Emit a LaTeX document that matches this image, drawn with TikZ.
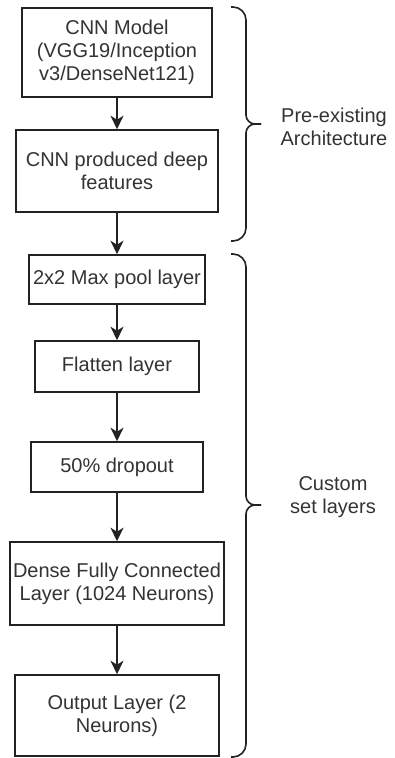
\documentclass[tikz,border=0pt]{standalone}
\usepackage{fontspec}
\setmainfont{Liberation Sans}
\usetikzlibrary{arrows.meta}
\definecolor{ink}{HTML}{222222}
\definecolor{txt}{HTML}{333333}
\begin{document}
\begin{tikzpicture}[x=1pt,y=-1pt,
  layer/.style={draw=ink, line width=1.6pt, fill=white, inner sep=0pt,
    align=center, text=txt, font=\fontsize{20}{23}\selectfont},
  flow/.style={draw=ink, line width=1.6pt,
    -{Stealth[length=13.5pt,width=13pt,inset=4pt]}},
  bracket/.style={draw=ink, line width=1.6pt, rounded corners=13pt},
  side/.style={align=center, text=txt, font=\fontsize{20}{23}\selectfont}]
\useasboundingbox (0,0) rectangle (394,758);

% layer stack
\node[layer, minimum width=190pt, minimum height=89pt] (cnn) at (117,52.5)
  {CNN Model\\(VGG19/Inception\\v3/DenseNet121)};
\node[layer, minimum width=202pt, minimum height=82pt] (feat) at (117,171)
  {CNN produced deep\\features};
\node[layer, minimum width=176pt, minimum height=49pt] (pool) at (117,279.5)
  {2x2 Max pool layer};
\node[layer, minimum width=164pt, minimum height=51pt] (flat) at (117,366.5)
  {Flatten layer};
\node[layer, minimum width=172pt, minimum height=50pt] (drop) at (117,467)
  {50\% dropout};
\node[layer, minimum width=214pt, minimum height=83pt] (dense) at (117,583.5)
  {Dense Fully Connected\\Layer (1024 Neurons)};
\node[layer, minimum width=204pt, minimum height=81pt] (out) at (117,715.5)
  {Output Layer (2\\Neurons)};

% connectors
\draw[flow] (cnn) -- (feat);
\draw[flow] (feat) -- (pool);
\draw[flow] (pool) -- (flat);
\draw[flow] (flat) -- (drop);
\draw[flow] (drop) -- (dense);
\draw[flow] (dense) -- (out);

% braces: wide rounding at the ends, tighter at the tip
\coordinate (b1tip) at (261,124);
\draw[bracket] (231,7) -- (246,7) [rounded corners=9pt] -- (246,124) -- (b1tip);
\draw[bracket] (b1tip) [rounded corners=9pt] -- (246,124) [rounded corners=13pt] -- (246,241) -- (231,241);
\coordinate (b2tip) at (261,505);
\draw[bracket] (231,254) -- (246,254) [rounded corners=9pt] -- (246,505) -- (b2tip);
\draw[bracket] (b2tip) [rounded corners=9pt] -- (246,505) [rounded corners=13pt] -- (246,757) -- (231,757);

% brace labels
\node[side] (pre) at (334,127) {Pre-existing\\Architecture};
\node[side] (cust) at (333,497) {Custom\\set layers};
\end{tikzpicture}
\end{document}
